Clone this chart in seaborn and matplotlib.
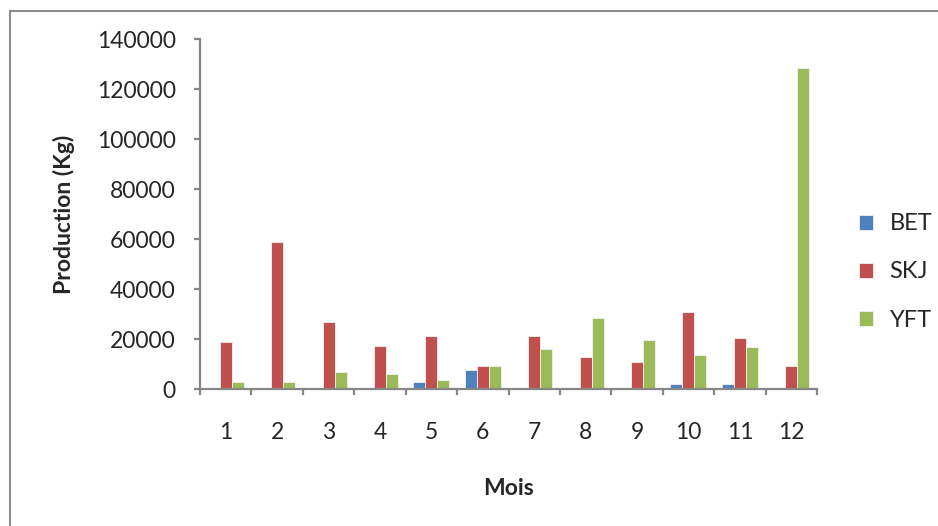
import pandas as pd
import numpy as np
import matplotlib.pyplot as plt
import seaborn as sns
from matplotlib.patches import Rectangle

# Data
mois = [1, 2, 3, 4, 5, 6, 7, 8, 9, 10, 11, 12]
bet = [0, 0, 0, 0, 2700, 7500, 0, 0, 0, 1900, 1900, 0]
skj = [18700, 58800, 26700, 17200, 21100, 9100, 21100, 13000, 10700, 30700, 20300, 9100]
yft = [2700, 2700, 6700, 5900, 3500, 9100, 16200, 28300, 19500, 13800, 17000, 128500]
especes = ["BET", "SKJ", "YFT"]
couleurs = ["#4F81BD", "#C0504D", "#9BBB59"]

df = pd.DataFrame({"Mois": mois * 3,
                   "Espece": ["BET"] * 12 + ["SKJ"] * 12 + ["YFT"] * 12,
                   "Production": bet + skj + yft})

sns.set_style("white")
plt.rcParams['font.family'] = ['Lato', 'DejaVu Sans']

fig = plt.figure(figsize=(9.38, 5.26), dpi=100)
ax = fig.add_axes([200 / 938, 1 - 389 / 526, 617 / 938, 350 / 526])

sns.barplot(data=df, x="Mois", y="Production", hue="Espece", hue_order=especes,
            palette=couleurs, width=0.7, gap=0, saturation=1, errorbar=None,
            edgecolor="#f2f2f2", linewidth=0.6, ax=ax)

ax.set_xlim(-0.5, 11.5)
ax.set_ylim(0, 140000)
ax.set_yticks(np.arange(0, 140001, 20000))
ax.set_xticks(range(12))
ax.set_xticklabels([str(m) for m in mois])
ax.set_xticks(np.arange(-0.5, 12, 1), minor=True)

grey = "#868686"
for side in ["top", "right"]:
    ax.spines[side].set_visible(False)
for side in ["left", "bottom"]:
    ax.spines[side].set_color(grey)
    ax.spines[side].set_linewidth(1.6)

ax.tick_params(axis="x", which="major", length=0, pad=24, labelsize=16.5)
ax.tick_params(axis="x", which="minor", length=4.5, width=1.6, color=grey, direction="out")
ax.tick_params(axis="y", length=4.5, width=1.6, color=grey, direction="out", pad=13, labelsize=16.5)
ax.tick_params(bottom=True, left=True, which="both")

ax.set_xlabel("Mois", fontsize=16.5, fontweight="bold")
ax.set_ylabel("Production (Kg)", fontsize=16.5, fontweight="bold")
ax.xaxis.set_label_coords(0.5, -0.255)
ax.yaxis.set_label_coords(-0.203, 0.5)

handles, labels = ax.get_legend_handles_labels()
ax.legend(handles, labels, loc="center left", bbox_to_anchor=(859 / 938, 1 - 272 / 526),
          bbox_transform=fig.transFigure, frameon=False, fontsize=17,
          handlelength=0.6, handleheight=0.6, handletextpad=0.7, labelspacing=1.15,
          borderpad=0, borderaxespad=0)

# chart area border
fig.patches.append(Rectangle((10 / 938, -0.2), 1.2, 1.2 - 11 / 526,
                             transform=fig.transFigure, fill=False,
                             edgecolor="#8c8c8c", linewidth=1.5, zorder=0))

fig.savefig("out.png", dpi=100)
